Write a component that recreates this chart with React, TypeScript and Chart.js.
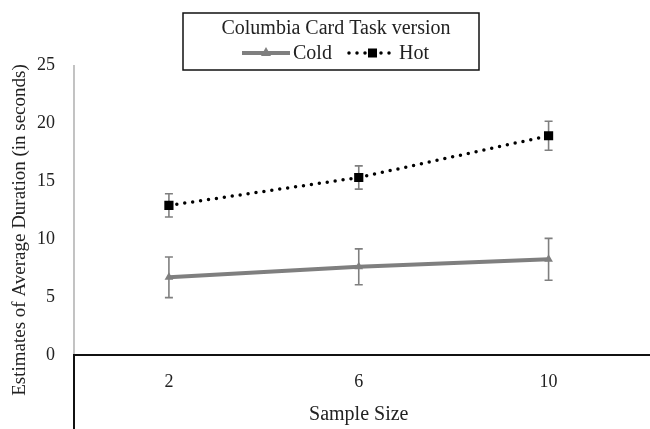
import React, { useEffect, useRef } from 'react';
import { Chart, registerables } from 'chart.js';

Chart.register(...registerables);

// ---- data ----
const sampleSizes = ['2', '6', '10'];
const coldMeans = [6.7, 7.6, 8.25];
const coldErrors = [1.75, 1.55, 1.8];
const hotMeans = [12.9, 15.3, 18.9];
const hotErrors = [1.0, 1.0, 1.25];
const yTickValues = [0, 5, 10, 15, 20, 25];
const seriesNames = ['Cold', 'Hot'];
const legendTitle = 'Columbia Card Task version';
const xTitle = 'Sample Size';
const yTitle = 'Estimates of Average Duration (in seconds)';

const FONT = '"Liberation Serif", "Times New Roman", serif';
const TEXT = '#222222';
const GRAY = '#7f7f7f';

const errorBarPlugin = {
  id: 'errorBars',
  beforeDatasetsDraw(chart: any) {
    const { ctx } = chart;
    const yScale = chart.scales.y;
    chart.data.datasets.forEach((ds: any, i: number) => {
      const meta = chart.getDatasetMeta(i);
      meta.data.forEach((pt: any, j: number) => {
        const v = ds.data[j];
        const e = ds.errors[j];
        const top = yScale.getPixelForValue(v + e);
        const bot = yScale.getPixelForValue(v - e);
        ctx.save();
        ctx.strokeStyle = GRAY;
        ctx.lineWidth = 1.6;
        ctx.beginPath();
        ctx.moveTo(pt.x, top);
        ctx.lineTo(pt.x, bot);
        ctx.moveTo(pt.x - 4, top);
        ctx.lineTo(pt.x + 4, top);
        ctx.moveTo(pt.x - 4, bot);
        ctx.lineTo(pt.x + 4, bot);
        ctx.stroke();
        ctx.restore();
      });
    });
  },
};

const axesPlugin = {
  id: 'axesLines',
  beforeDatasetsDraw(chart: any) {
    const { ctx, chartArea, width, height } = chart;
    const zeroY = chart.scales.y.getPixelForValue(0);
    const x0 = chartArea.left;
    ctx.save();
    ctx.strokeStyle = '#9a9a9a';
    ctx.lineWidth = 1.2;
    ctx.beginPath();
    ctx.moveTo(x0, chartArea.top);
    ctx.lineTo(x0, zeroY);
    ctx.stroke();
    ctx.strokeStyle = '#111111';
    ctx.lineWidth = 2;
    ctx.beginPath();
    ctx.moveTo(x0, zeroY);
    ctx.lineTo(x0, height);
    ctx.moveTo(x0 - 1, zeroY);
    ctx.lineTo(width, zeroY);
    ctx.stroke();
    ctx.restore();
  },
};

const titlesLegendPlugin = {
  id: 'titlesLegend',
  afterDraw(chart: any) {
    const { ctx } = chart;
    ctx.save();
    // y-axis title
    ctx.fillStyle = TEXT;
    ctx.font = `19px ${FONT}`;
    ctx.textAlign = 'center';
    ctx.textBaseline = 'middle';
    ctx.translate(20, 230);
    ctx.rotate(-Math.PI / 2);
    ctx.fillText(yTitle, 0, 0);
    ctx.restore();

    // legend box
    ctx.save();
    ctx.strokeStyle = '#111111';
    ctx.lineWidth = 1.5;
    ctx.strokeRect(183, 13, 296, 57);
    ctx.fillStyle = TEXT;
    ctx.font = `20px ${FONT}`;
    ctx.textAlign = 'center';
    ctx.textBaseline = 'alphabetic';
    ctx.fillText(legendTitle, 336, 34);

    // Cold sample
    const ly = 53;
    ctx.strokeStyle = GRAY;
    ctx.lineWidth = 4;
    ctx.beginPath();
    ctx.moveTo(242, ly);
    ctx.lineTo(290, ly);
    ctx.stroke();
    ctx.fillStyle = GRAY;
    ctx.beginPath();
    ctx.moveTo(266, ly - 6);
    ctx.lineTo(271, ly + 3);
    ctx.lineTo(261, ly + 3);
    ctx.closePath();
    ctx.fill();
    ctx.fillStyle = TEXT;
    ctx.textAlign = 'left';
    ctx.fillText(seriesNames[0], 293, 59);

    // Hot sample
    ctx.strokeStyle = '#000000';
    ctx.lineWidth = 3.5;
    ctx.lineCap = 'round';
    ctx.setLineDash([0, 8]);
    ctx.beginPath();
    ctx.moveTo(349, ly);
    ctx.lineTo(395, ly);
    ctx.stroke();
    ctx.setLineDash([]);
    ctx.fillStyle = '#000000';
    ctx.fillRect(368, ly - 4.5, 9, 9);
    ctx.fillStyle = TEXT;
    ctx.fillText(seriesNames[1], 399, 59);
    ctx.restore();
  },
};

export default function App() {
  const canvasRef = useRef<HTMLCanvasElement>(null);

  useEffect(() => {
    document.body.style.margin = '0';
    const canvas = canvasRef.current;
    if (!canvas) return;
    const chart = new Chart(canvas, {
      type: 'line',
      data: {
        labels: sampleSizes,
        datasets: [
          {
            label: seriesNames[0],
            data: coldMeans,
            errors: coldErrors,
            borderColor: GRAY,
            backgroundColor: GRAY,
            borderWidth: 4,
            pointStyle: 'triangle',
            pointRadius: 5,
            pointBorderWidth: 0,
            pointBackgroundColor: GRAY,
            tension: 0,
          } as any,
          {
            label: seriesNames[1],
            data: hotMeans,
            errors: hotErrors,
            borderColor: '#000000',
            backgroundColor: '#000000',
            borderWidth: 3.5,
            borderDash: [0, 8],
            borderCapStyle: 'round',
            pointStyle: 'rect',
            pointRadius: 6.5,
            pointBorderWidth: 0,
            pointBackgroundColor: '#000000',
            tension: 0,
          } as any,
        ],
      },
      options: {
        animation: false,
        responsive: false,
        devicePixelRatio: 1,
        layout: { padding: { top: 65, left: 0, right: 0, bottom: 0 } },
        plugins: {
          legend: { display: false },
          tooltip: { enabled: false },
        },
        scales: {
          x: {
            type: 'category',
            position: 'bottom',
            offset: true,
            grid: { display: false, drawTicks: false },
            border: { display: false },
            ticks: {
              color: TEXT,
              font: { family: FONT, size: 18 },
              padding: 16,
            },
            title: {
              display: true,
              text: xTitle,
              color: TEXT,
              font: { family: FONT, size: 20 },
              padding: { top: 0, bottom: 2 },
            },
            afterFit: (scale: any) => {
              scale.height = 74;
            },
          },
          y: {
            min: yTickValues[0],
            max: yTickValues[yTickValues.length - 1],
            grid: { display: false, drawTicks: false },
            border: { display: false },
            afterBuildTicks: (scale: any) => {
              scale.ticks = yTickValues.map((v) => ({ value: v }));
            },
            ticks: {
              color: TEXT,
              font: { family: FONT, size: 18 },
              padding: 19,
            },
            afterFit: (scale: any) => {
              scale.width = 74;
            },
          },
        },
      } as any,
      plugins: [axesPlugin, errorBarPlugin, titlesLegendPlugin],
    });
    return () => chart.destroy();
  }, []);

  return (
    <div style={{ width: 650, height: 429 }}>
      <canvas ref={canvasRef} width={650} height={429} style={{ display: 'block' }} />
    </div>
  );
}
